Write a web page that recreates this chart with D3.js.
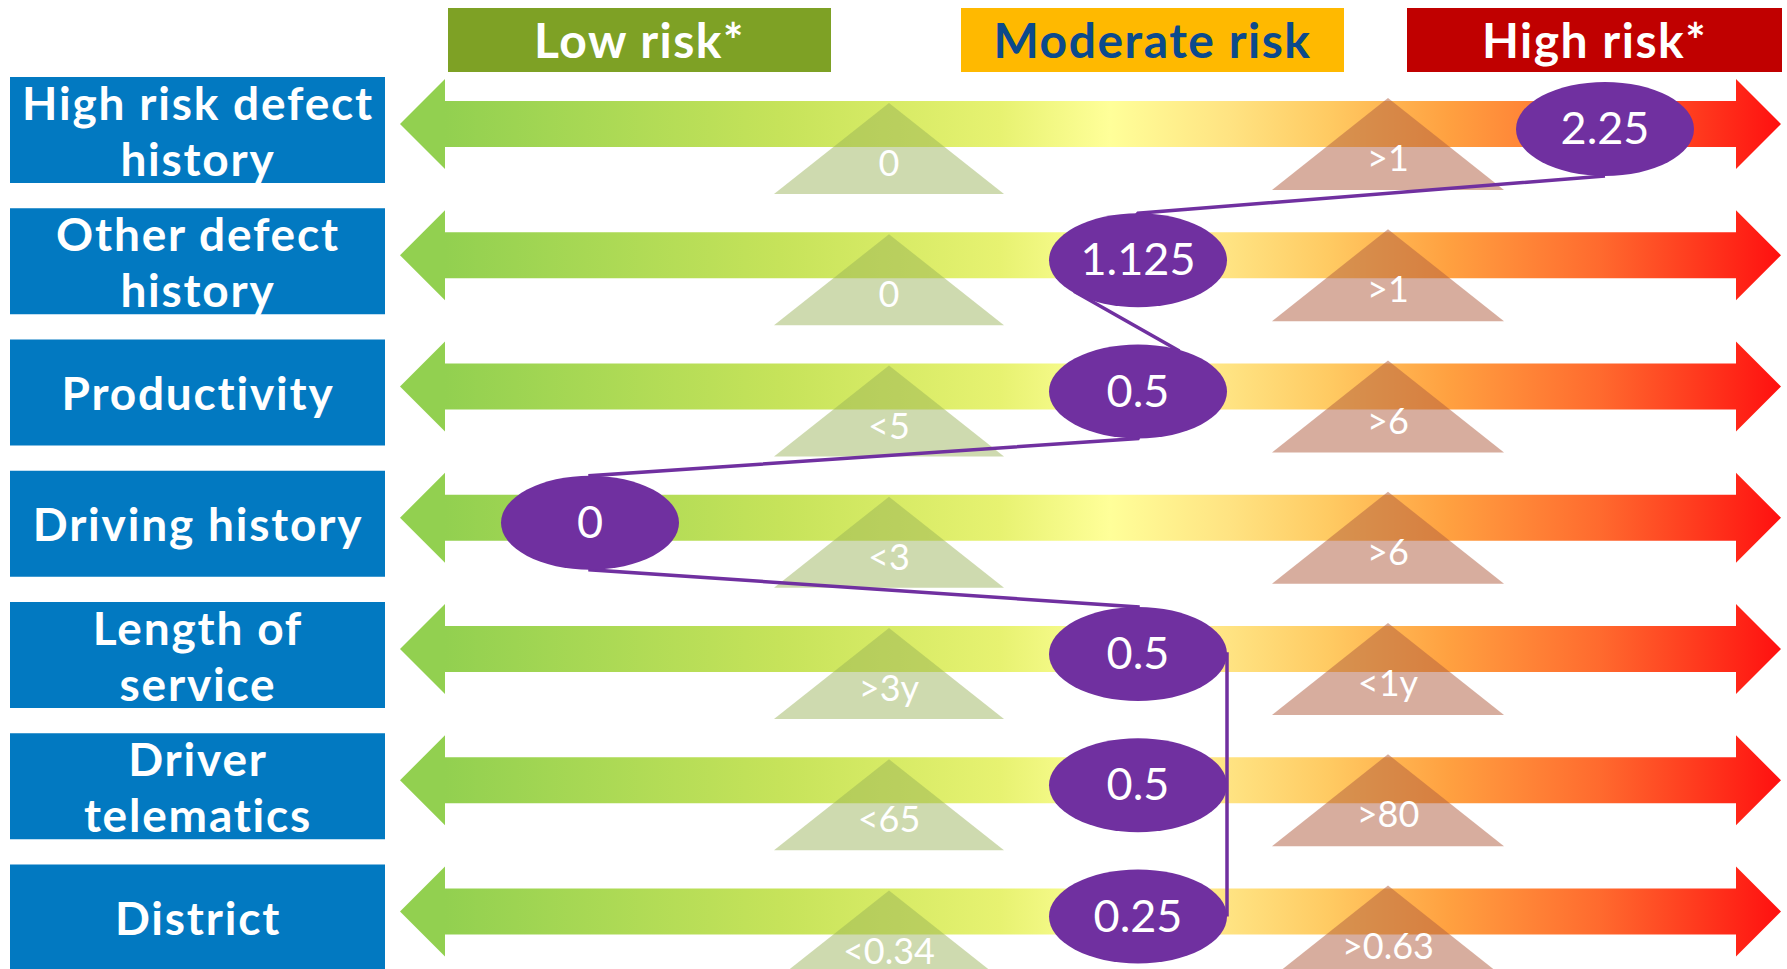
<!DOCTYPE html>
<html>
<head>
<meta charset="utf-8">
<script src="https://cdn.jsdelivr.net/npm/d3@7"></script>
<style>
  body { margin: 0; background: #fff; }
  svg { display: block; }
</style>
</head>
<body>
<script>
// factors, top to bottom
var factors = ["High risk defect history", "Other defect history", "Productivity",
  "Driving history", "Length of service", "Driver telematics", "District"];
// how each label is split over lines
var factorLines = [["High risk defect", "history"], ["Other defect", "history"], ["Productivity"],
  ["Driving history"], ["Length of", "service"], ["Driver", "telematics"], ["District"]];
var lowCut = ["0", "0", "<5", "<3", ">3y", "<65", "<0.34"];
var highCut = [">1", ">1", ">6", ">6", "<1y", ">80", ">0.63"];
var scores = [2.25, 1.125, 0.5, 0, 0.5, 0.5, 0.25];
var scoreLabels = ["2.25", "1.125", "0.5", "0", "0.5", "0.5", "0.25"];
var levels = ["high", "moderate", "moderate", "low", "moderate", "moderate", "moderate"];
var headers = ["Low risk*", "Moderate risk", "High risk*"];
var headerLevels = ["low", "moderate", "high"];

var width = 1787, height = 969;

var svg = d3.select("body").append("svg")
  .attr("width", width)
  .attr("height", height);

// scales
var y = d3.scalePoint().domain(factors).range([124, 911.5]);
var x = d3.scaleOrdinal()
  .domain(["low", "lowCut", "moderate", "highCut", "high"])
  .range([590, 889, 1138, 1388, 1605]);
var headLeft = d3.scaleOrdinal().domain(headerLevels).range([448, 961, 1407]);
var headRight = d3.scaleOrdinal().domain(headerLevels).range([831, 1344, 1782]);
var headFill = d3.scaleOrdinal().domain(headerLevels).range(["#7ea125", "#ffb900", "#c00000"]);
var headText = d3.scaleOrdinal().domain(headerLevels).range(["#fff", "#0b4a8c", "#fff"]);

var font = "Lato, 'Open Sans', sans-serif";

// gradient for the arrows
var arrowLeft = 400, arrowRight = 1781, headLen = 45, bandHalf = 23, headHalf = 45;
var stops = [
  [445, "#92d050"], [780, "#c6e35a"], [1000, "#e7f271"], [1110, "#ffff99"],
  [1230, "#ffe382"], [1330, "#ffca62"], [1450, "#ffa040"], [1600, "#ff6a2e"], [1781, "#ff1010"]
];
var grad = svg.append("defs").append("linearGradient")
  .attr("id", "riskGrad")
  .attr("gradientUnits", "userSpaceOnUse")
  .attr("x1", arrowLeft).attr("x2", arrowRight)
  .attr("y1", 0).attr("y2", 0);
grad.selectAll("stop")
  .data(stops)
  .enter().append("stop")
  .attr("offset", function(d) { return (d[0] - arrowLeft) / (arrowRight - arrowLeft); })
  .attr("stop-color", function(d) { return d[1]; });

// header boxes
var head = svg.selectAll(".head")
  .data(headerLevels)
  .enter().append("g").attr("class", "head");
head.append("rect")
  .attr("x", function(d) { return headLeft(d); })
  .attr("y", 8)
  .attr("width", function(d) { return headRight(d) - headLeft(d); })
  .attr("height", 64)
  .attr("fill", function(d) { return headFill(d); });
head.append("text")
  .attr("x", function(d) { return (headLeft(d) + headRight(d)) / 2; })
  .attr("y", 58)
  .attr("text-anchor", "middle")
  .attr("fill", function(d) { return headText(d); })
  .style("font-family", font)
  .style("font-weight", "bold")
  .style("font-size", "48px")
  .style("letter-spacing", "1.5px")
  .text(function(d, i) { return headers[i]; });

var rowLayer = svg.append("g");
var lineLayer = svg.append("g");
var scoreLayer = svg.append("g");

var rows = rowLayer.selectAll(".row")
  .data(factors)
  .enter().append("g")
  .attr("class", "row")
  .attr("transform", function(d) { return "translate(0," + y(d) + ")"; });

// row label boxes
rows.append("rect")
  .attr("x", 10).attr("y", -47)
  .attr("width", 375).attr("height", 106)
  .attr("fill", "#0279c1");
rows.append("text")
  .attr("text-anchor", "middle")
  .attr("fill", "#fff")
  .style("font-family", font)
  .style("font-weight", "bold")
  .style("font-size", "46px")
  .style("letter-spacing", "1.8px")
  .selectAll("tspan")
  .data(function(d, i) { return factorLines[i]; })
  .enter().append("tspan")
  .attr("x", 198)
  .attr("y", function(d, j, nodes) {
    return nodes.length == 1 ? 23 : -4 + j * 56;
  })
  .text(function(d) { return d; });

// double headed arrows
rows.append("path")
  .attr("fill", "url(#riskGrad)")
  .attr("d", function() {
    var p = d3.path();
    p.moveTo(arrowLeft, 0);
    p.lineTo(arrowLeft + headLen, -headHalf);
    p.lineTo(arrowLeft + headLen, -bandHalf);
    p.lineTo(arrowRight - headLen, -bandHalf);
    p.lineTo(arrowRight - headLen, -headHalf);
    p.lineTo(arrowRight, 0);
    p.lineTo(arrowRight - headLen, headHalf);
    p.lineTo(arrowRight - headLen, bandHalf);
    p.lineTo(arrowLeft + headLen, bandHalf);
    p.lineTo(arrowLeft + headLen, headHalf);
    p.closePath();
    return p.toString();
  });

// threshold triangles
function tri(cx, top, bottom, half) {
  return "M" + cx + "," + top + "L" + (cx + half) + "," + bottom + "L" + (cx - half) + "," + bottom + "Z";
}
rows.append("path")
  .attr("d", tri(x("lowCut"), -21, 70, 115))
  .attr("fill", "rgb(150,176,86)")
  .attr("fill-opacity", 0.47);
rows.append("path")
  .attr("d", tri(x("highCut"), -26, 66, 116))
  .attr("fill", "rgb(176,92,62)")
  .attr("fill-opacity", 0.5);
rows.append("text")
  .attr("x", x("lowCut"))
  .attr("y", 52)
  .attr("text-anchor", "middle")
  .attr("fill", "#fff")
  .style("font-family", font)
  .style("font-size", "36px")
  .text(function(d, i) { return lowCut[i]; });
rows.append("text")
  .attr("x", x("highCut"))
  .attr("y", 47)
  .attr("text-anchor", "middle")
  .attr("fill", "#fff")
  .style("font-family", font)
  .style("font-size", "36px")
  .text(function(d, i) { return highCut[i]; });

// connector between the scores (drawn under the ellipses)
var rx = 89, ry = 47, dy = 5;
var pts = [];
factors.forEach(function(f, i) {
  var cx = x(levels[i]), cy = y(f) + dy;
  var prev = i > 0 ? x(levels[i - 1]) : null;
  var next = i < factors.length - 1 ? x(levels[i + 1]) : null;
  if (i >= 4) {
    // last rows share a column: run down the right edge
    pts.push([cx + rx, cy]);
  } else {
    if (i > 0) {
      if (prev == cx) pts.push([cx + 0.45 * rx, cy - 0.88 * ry]);
      else pts.push([cx, cy - ry]);
    }
    if (next == cx && i < 3) pts.push([cx - 0.7 * rx, cy + 0.68 * ry]);
    else pts.push([cx, cy + ry]);
  }
});
// the 0 ellipse goes to the top of the next one before the edge run
pts.splice(pts.length - 3, 0, [x(levels[4]), y(factors[4]) + dy - ry], [x(levels[4]), y(factors[4]) + dy]);
lineLayer.append("path")
  .attr("d", d3.line()(pts))
  .attr("fill", "none")
  .attr("stroke", "#7030a0")
  .attr("stroke-width", 3.5);

// score ellipses
var score = scoreLayer.selectAll(".score")
  .data(factors)
  .enter().append("g")
  .attr("class", "score")
  .attr("transform", function(d, i) { return "translate(" + x(levels[i]) + "," + (y(d) + dy) + ")"; });
score.append("ellipse")
  .attr("rx", rx).attr("ry", ry)
  .attr("fill", "#7030a0");
score.append("text")
  .attr("y", 15)
  .attr("text-anchor", "middle")
  .attr("fill", "#fff")
  .style("font-family", font)
  .style("font-size", "45px")
  .text(function(d, i) { return scoreLabels[i]; });
</script>
</body>
</html>
